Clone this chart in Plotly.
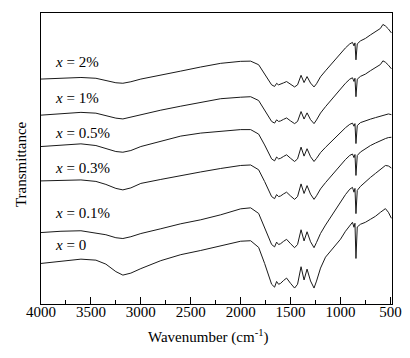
import plotly.graph_objects as go

# Wavenumber grid (cm^-1)
wavenumber = [4000, 3800, 3600, 3450, 3350, 3250, 3180, 3100, 3000, 2800,
              2600, 2400, 2200, 2000, 1900,
              1820, 1760, 1720, 1690, 1660, 1640, 1620, 1600, 1570, 1540,
              1500, 1460, 1430, 1395, 1365, 1335, 1300, 1265,
              1240, 1200, 1150, 1100, 1050, 1000, 950, 907, 880, 865,
              855, 845, 832, 800, 750, 700, 650, 600, 575, 550, 520, 490]

# Transmittance (arbitrary units, stacked spectra)
t_2 = [221.7, 222.5, 223.3, 222.5, 220.5, 218, 217.5, 219, 221.7, 226,
       229.7, 233.8, 237.5, 239.5, 239.7,
       236.1, 227.3, 221.1, 215.9, 214.3, 217.4, 215.9, 216.4, 217.9, 219.2,
       216.4, 213.8, 215.9, 225.5, 218.2, 224.2, 217.7, 213.8,
       217, 224, 230, 236, 242, 247, 253, 257, 258.5, 255,
       258, 241, 257, 260, 262.5, 266, 269, 272.5, 276.5, 275, 272, 268]
t_1 = [185.5, 187, 188.3, 187.5, 185, 182.5, 181.7, 183.5, 186.5, 190.5,
       194.5, 198.5, 202, 203.5, 204,
       200.2, 191, 184.6, 179.2, 177.5, 180.8, 179.2, 179.7, 181.3, 182.7,
       179.7, 177, 179.2, 189.1, 181.6, 187.8, 181, 177,
       180.7, 187.6, 194, 200, 206, 211, 217.5, 221.6, 223, 219.3,
       222.5, 204, 221.6, 224.4, 226.7, 230.1, 232.9, 236.3, 240, 238.6, 235.7, 232]
t_05 = [154, 155.5, 156.7, 155, 152, 149, 148.3, 150, 154, 159,
        164.5, 167.5, 169.5, 171, 171,
        166.5, 155.6, 148, 141.6, 139.6, 143.5, 141.6, 142.2, 144.1, 145.7,
        142.2, 139, 141.6, 153.4, 144.4, 151.8, 143.8, 139,
        142.1, 147.9, 153.2, 158.2, 163.3, 167.5, 172.9, 176.3, 177.5, 174.4,
        177, 157, 175, 178, 180, 181.5, 183, 184.5, 185.5, 186, 186.7, 186]
t_03 = [119.5, 120, 120.5, 119, 116, 112, 110.5, 112.5, 117, 121,
        125, 128.5, 132, 135, 135.5,
        130.7, 118.9, 110.7, 103.8, 101.7, 105.8, 103.8, 104.4, 106.5, 108.2,
        104.4, 101, 103.8, 116.5, 106.9, 114.8, 106.2, 101,
        104.6, 111.5, 117.8, 123.7, 129.7, 134.7, 141, 145.1, 146.5, 142.9,
        146, 125, 145, 148.5, 152, 155, 157.5, 160, 161, 162, 163, 163.3]
t_01 = [67.7, 69, 69.5, 67.5, 65.5, 62.5, 61.7, 63.5, 66.7, 71.5,
        76.5, 80.5, 85.5, 91.5, 92.5,
        86.9, 73.3, 63.7, 55.7, 53.3, 58.1, 55.7, 56.5, 58.9, 60.9,
        56.5, 52.5, 55.7, 70.5, 59.3, 68.5, 58.5, 52.5,
        57.8, 66.8, 75.2, 83, 90.8, 97.4, 105.8, 111.2, 113, 108.2,
        112, 86.7, 110, 114, 119, 123, 127, 131, 133.5, 135, 134.5, 132.5]
t_0 = [36.7, 39, 41, 40, 36, 28.5, 25, 27, 31.5, 39.5,
       45.5, 49.7, 54, 59, 59.5,
       52.8, 36.7, 25.3, 15.8, 12.9, 18.6, 15.8, 16.7, 19.6, 22,
       16.7, 12, 15.8, 33.4, 20.1, 31, 19.1, 12,
       19, 32, 43, 49, 55, 61, 69, 75, 78, 73,
       77, 41.7, 73.3, 76, 78, 81, 84, 88, 90, 91.7, 88, 82]

series = [t_2, t_1, t_05, t_03, t_01, t_0]
labels = ["2%", "1%", "0.5%", "0.3%", "0.1%", "0"]
label_y = [238.5, 202.5, 167.5, 132, 87, 55]
label_x = 3880

tick_vals = [4000, 3500, 3000, 2500, 2000, 1500, 1000, 500]

SERIF = "Liberation Serif, Times New Roman, serif"

fig = go.Figure()
for s, lab in zip(series, labels):
    fig.add_trace(go.Scatter(x=wavenumber, y=s, mode="lines",
                             line=dict(color="#1a1a1a", width=1),
                             name=lab, showlegend=False))

for lab, ly in zip(labels, label_y):
    fig.add_annotation(x=label_x, y=ly, xref="x", yref="y",
                       text="<i>x</i> = " + lab, showarrow=False,
                       xanchor="left", yanchor="middle",
                       font=dict(family=SERIF, size=15, color="black"))

# axis titles
fig.add_annotation(x=0.476, y=0, xref="paper", yref="paper",
                   text="Wavenumber (cm<sup>-1</sup>)", showarrow=False,
                   xanchor="center", yanchor="middle", yshift=-32,
                   font=dict(family=SERIF, size=15, color="black"))
fig.add_annotation(x=0, y=0.481, xref="paper", yref="paper",
                   text="Transmittance", showarrow=False, textangle=-90,
                   xanchor="center", yanchor="middle", xshift=-20,
                   font=dict(family=SERIF, size=15, color="black"))

# the page body adds an 8 px offset, so the figure is sized to fit the window
fig.update_layout(
    width=402, height=350,
    margin=dict(l=33, r=18, t=5, b=54, autoexpand=False),
    paper_bgcolor="white", plot_bgcolor="white",
    font=dict(family=SERIF, size=15, color="black"),
)
fig.update_xaxes(
    range=[4000, 484], tickvals=tick_vals,
    ticktext=[str(v) for v in tick_vals],
    ticks="inside", ticklen=7, tickwidth=1, tickcolor="black",
    minor=dict(dtick=250, tick0=0, ticks="inside", ticklen=4, tickcolor="black"),
    showline=True, linecolor="black", linewidth=1, mirror=True,
    showgrid=False, zeroline=False, automargin=False,
    ticklabelstandoff=-6,
    tickfont=dict(family=SERIF, size=15, color="black"),
)
fig.update_yaxes(
    range=[-4, 288], showticklabels=False, ticks="",
    showline=True, linecolor="black", linewidth=1, mirror=True,
    showgrid=False, zeroline=False, automargin=False,
)

fig.write_html("out.html")
